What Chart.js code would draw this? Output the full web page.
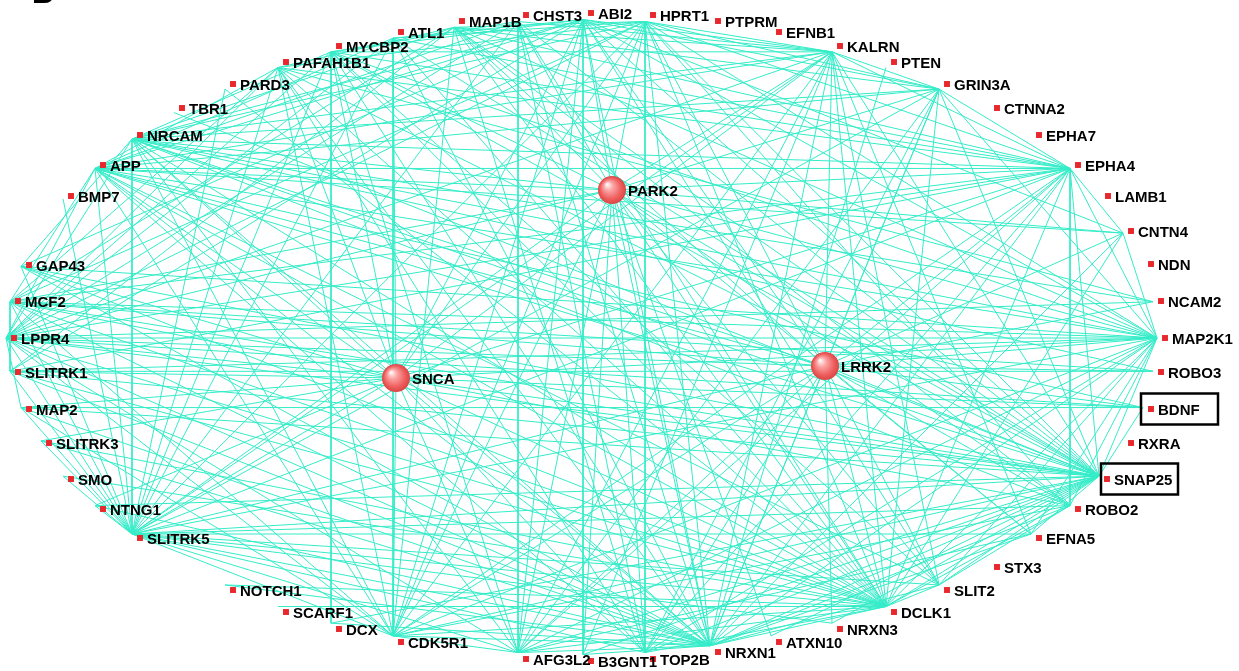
<!DOCTYPE html>
<html>
<head>
<meta charset="utf-8">
<script src="https://cdn.jsdelivr.net/npm/chart.js@4.4.1/dist/chart.umd.min.js"></script>
<style>
  html, body { margin: 0; padding: 0; background: #ffffff; }
  #wrap { width: 1239px; height: 671px; position: relative; }
</style>
</head>
<body>
<div id="wrap"><canvas id="net" width="1239" height="671"></canvas></div>
<script>
// Gene nodes on the outer ring (layout coordinates)
const geneNames = ['ABI2','HPRT1','PTPRM','EFNB1','KALRN','PTEN','GRIN3A','CTNNA2','EPHA7','EPHA4','LAMB1','CNTN4','NDN','NCAM2','MAP2K1','ROBO3','BDNF','RXRA','SNAP25','ROBO2','EFNA5','STX3','SLIT2','DCLK1','NRXN3','ATXN10','NRXN1','TOP2B','B3GNT1','AFG3L2','CDK5R1','DCX','SCARF1','NOTCH1','SLITRK5','NTNG1','SMO','SLITRK3','MAP2','SLITRK1','LPPR4','MCF2','GAP43','BMP7','APP','NRCAM','TBR1','PARD3','PAFAH1B1','MYCBP2','ATL1','MAP1B','CHST3'];
const geneX = [591,653,718,779,840,894,947,997,1039,1078,1108,1131,1151,1161,1165,1161,1151,1131,1107,1078,1039,997,947,894,840,779,718,653,591,526,401,339,286,233,140,103,71,49,29,18,14,18,29,71,103,140,182,233,286,339,401,462,526];
const geneY = [13,15,21,32,46,62,84,108,135,165,196,231,264,301,338,372,409,443,479,509,538,567,590,612,629,642,652,659,661,659,642,629,612,590,538,509,479,443,409,372,338,301,265,196,165,135,108,84,62,46,32,21,15];

// Disease genes drawn as spheres inside the ring
const hubNames = ['PARK2','SNCA','LRRK2'];
const hubX = [612,396,825];
const hubY = [190,378,366];

// Interactions of each disease gene
const park2Links = ['ABI2','HPRT1','CHST3','MAP1B','KALRN','GRIN3A','EPHA4','APP','NRCAM','MCF2','LPPR4','SLITRK5','CDK5R1','AFG3L2','B3GNT1','TOP2B','NRXN1','DCLK1','SLIT2','SNAP25','ROBO2','MAP2K1','CNTN4','ATXN10','MYCBP2','EFNA5'];
const sncaLinks = ['ATL1','MYCBP2','PAFAH1B1','NRCAM','APP','GAP43','MCF2','LPPR4','SLITRK1','MAP2','SLITRK3','NTNG1','SLITRK5','CDK5R1','AFG3L2','TOP2B','NRXN1','DCLK1','SNAP25','ROBO2','MAP2K1','EPHA4','KALRN','HPRT1','ABI2','BDNF'];
const lrrk2Links = ['ABI2','HPRT1','KALRN','GRIN3A','EPHA4','CNTN4','NCAM2','MAP2K1','ROBO3','BDNF','SNAP25','ROBO2','EFNA5','SLIT2','DCLK1','NRXN3','NRXN1','TOP2B','AFG3L2','CDK5R1','SLITRK5','LPPR4','MCF2','APP','NRCAM','MAP1B'];

// Interactions between ring genes
const geneLinks = [
  ['EPHA4', ['KALRN','GRIN3A','HPRT1','MYCBP2','PAFAH1B1','NRCAM','APP','MCF2','LPPR4','SLITRK1','SLITRK5','CDK5R1','AFG3L2','TOP2B','NRXN1','DCLK1','ROBO2','SNAP25','MAP2K1','CNTN4','ATL1','MAP1B']],
  ['KALRN', ['HPRT1','ABI2','CHST3','MAP1B','MYCBP2','NRCAM','APP','LPPR4','SLITRK5','CDK5R1','AFG3L2','NRXN1','DCLK1','SLIT2','SNAP25','GRIN3A','EFNA5','B3GNT1']],
  ['GRIN3A', ['HPRT1','ABI2','MAP1B','APP','NRCAM','SLITRK5','NRXN1','DCLK1','SNAP25','TOP2B','AFG3L2','MAP2K1']],
  ['HPRT1', ['MAP1B','ATL1','PAFAH1B1','NRCAM','LPPR4','MCF2','SLITRK5','CDK5R1','TOP2B','NRXN1','DCLK1','SNAP25','ROBO2','MAP2K1']],
  ['ABI2', ['ATL1','MYCBP2','NRCAM','APP','GAP43','SLITRK1','CDK5R1','AFG3L2','B3GNT1','NRXN1','SLIT2','SNAP25','MAP2K1','CNTN4']],
  ['CHST3', ['MYCBP2','APP','LPPR4','SLITRK5','AFG3L2','NRXN1','DCLK1','SNAP25','TOP2B']],
  ['MAP1B', ['PAFAH1B1','NRCAM','MCF2','SLITRK1','CDK5R1','TOP2B','DCLK1','SNAP25','ROBO2','MAP2K1']],
  ['ATL1', ['APP','CDK5R1','SLITRK5','NRXN1','DCLK1','SNAP25','LPPR4']],
  ['MYCBP2', ['NRCAM','LPPR4','SLITRK5','AFG3L2','NRXN1','DCLK1','SLIT2','SNAP25','MAP2K1','DCX']],
  ['PAFAH1B1', ['APP','LPPR4','MCF2','SLITRK5','CDK5R1','NRXN1','DCLK1','SNAP25','TOP2B','NCAM2']],
  ['PARD3', ['SLITRK5','DCLK1']],
  ['TBR1', ['SNAP25']],
  ['NRCAM', ['GAP43','LPPR4','SLITRK5','CDK5R1','AFG3L2','NRXN1','DCLK1','SNAP25','ROBO2','MAP2K1','NCAM2','ROBO3']],
  ['APP', ['MCF2','LPPR4','SLITRK5','CDK5R1','TOP2B','NRXN1','DCLK1','SLIT2','SNAP25','MAP2K1','CNTN4','BDNF']],
  ['BMP7', ['SLITRK5']],
  ['GAP43', ['SLITRK5','NRXN1','DCLK1','SNAP25','MAP2K1']],
  ['MCF2', ['SLITRK1','SLITRK5','CDK5R1','NRXN1','DCLK1','SNAP25','MAP2K1','ROBO3']],
  ['LPPR4', ['MAP2','SLITRK5','CDK5R1','AFG3L2','NRXN1','DCLK1','SNAP25','MAP2K1','NCAM2','BDNF']],
  ['SLITRK1', ['SLITRK5','NRXN1','DCLK1','SNAP25','MAP2K1','ROBO3']],
  ['MAP2', ['SLITRK5','CDK5R1','NRXN1','SNAP25','BDNF']],
  ['SLITRK3', ['SLITRK5','NRXN1','DCLK1']],
  ['SMO', ['SLITRK5','DCLK1']],
  ['NTNG1', ['SLITRK5','NRXN1','SNAP25']],
  ['SLITRK5', ['CDK5R1','AFG3L2','TOP2B','NRXN1','DCLK1','SLIT2','EFNA5','ROBO2','SNAP25','MAP2K1','NRXN3']],
  ['NOTCH1', ['NRXN1','DCLK1']],
  ['SCARF1', ['DCLK1']],
  ['DCX', ['NRXN1','SNAP25']],
  ['CDK5R1', ['AFG3L2','NRXN1','DCLK1','SNAP25','ROBO2','MAP2K1']],
  ['AFG3L2', ['NRXN1','DCLK1','SNAP25','EFNA5','MAP2K1']],
  ['B3GNT1', ['NRXN1','SNAP25']],
  ['TOP2B', ['DCLK1','SNAP25','MAP2K1']],
  ['NRXN1', ['DCLK1','SLIT2','EFNA5','ROBO2','SNAP25','MAP2K1','CNTN4']],
  ['ATXN10', ['SNAP25']],
  ['NRXN3', ['SNAP25']],
  ['DCLK1', ['SLIT2','ROBO2','SNAP25','MAP2K1','CNTN4']],
  ['SLIT2', ['ROBO2','SNAP25','MAP2K1']],
  ['EFNA5', ['SNAP25','MAP2K1']],
  ['ROBO2', ['MAP2K1']],
  ['SNAP25', ['BDNF','MAP2K1']],
  ['MAP2K1', ['CNTN4']],
  ['PTEN', ['NRXN1']]
];

// Genes highlighted with a frame
const boxedGenes = ['BDNF', 'SNAP25'];

// ---- drawing helpers ----
const ringCenter = { x: 590, y: 338 };
const EDGE_COLOR = 'rgb(52,236,200)';
const NODE_RED = '#e8282c';

function genePos(name) {
  const i = geneNames.indexOf(name);
  return { x: geneX[i], y: geneY[i] };
}
// Edges meet each ring gene just beside its marker
function edgeEnd(name) {
  const p = genePos(name);
  return { x: p.x - 8, y: p.y + (ringCenter.y - p.y) * 0.02 };
}
function hubPos(name) {
  const i = hubNames.indexOf(name);
  return { x: hubX[i], y: hubY[i] };
}

function edgeDataset(a, b) {
  return {
    data: [a, b],
    showLine: true,
    borderColor: EDGE_COLOR,
    borderWidth: 1,
    pointRadius: 0,
    fill: false,
    order: 5
  };
}

const datasets = [];
[[park2Links, 'PARK2'], [sncaLinks, 'SNCA'], [lrrk2Links, 'LRRK2']].forEach(([list, hub]) => {
  list.forEach(g => datasets.push(edgeDataset(hubPos(hub), edgeEnd(g))));
});
geneLinks.forEach(([src, targets]) => {
  targets.forEach(t => datasets.push(edgeDataset(edgeEnd(src), edgeEnd(t))));
});

// Sphere marker for the disease genes
function makeSphere(r) {
  const c = document.createElement('canvas');
  c.width = c.height = r * 2 + 2;
  const g = c.getContext('2d');
  const cx = r + 1, cy = r + 1;
  const grad = g.createRadialGradient(cx - r * 0.35, cy - r * 0.4, r * 0.05, cx, cy, r);
  grad.addColorStop(0, '#fff4f4');
  grad.addColorStop(0.3, '#fba4a4');
  grad.addColorStop(0.75, '#ee5c5c');
  grad.addColorStop(1, '#d94646');
  g.fillStyle = grad;
  g.beginPath();
  g.arc(cx, cy, r, 0, Math.PI * 2);
  g.fill();
  return c;
}
const sphere = makeSphere(14);

datasets.push({
  data: geneNames.map((n, i) => ({ x: geneX[i], y: geneY[i] })),
  pointStyle: 'rect',
  pointRadius: 4.2,
  backgroundColor: NODE_RED,
  borderColor: NODE_RED,
  borderWidth: 0,
  showLine: false,
  order: 1
});
datasets.push({
  data: hubNames.map((n, i) => ({ x: hubX[i], y: hubY[i] })),
  pointStyle: sphere,
  pointRadius: 14,
  showLine: false,
  order: 0
});

const labelPlugin = {
  id: 'geneLabels',
  afterDatasetsDraw(chart) {
    const { ctx, scales: { x, y } } = chart;
    ctx.save();
    ctx.fillStyle = '#000';
    ctx.font = 'bold 15px "Liberation Sans", Arial, sans-serif';
    ctx.textBaseline = 'alphabetic';
    geneNames.forEach((n, i) => {
      ctx.fillText(n, x.getPixelForValue(geneX[i]) + 7, y.getPixelForValue(geneY[i]) + 5.5);
    });
    hubNames.forEach((n, i) => {
      ctx.fillText(n, x.getPixelForValue(hubX[i]) + 16, y.getPixelForValue(hubY[i]) + 5.5);
    });
    // frames around highlighted genes
    ctx.strokeStyle = '#000';
    ctx.lineWidth = 2.5;
    const frameOffset = { BDNF: 10, SNAP25: 6 };
    boxedGenes.forEach(n => {
      const p = genePos(n);
      const px = x.getPixelForValue(p.x), py = y.getPixelForValue(p.y);
      ctx.strokeRect(px - frameOffset[n], py - 15.5, 77, 31);
    });
    // panel letter
    ctx.font = 'bold 30px "Liberation Sans", Arial, sans-serif';
    ctx.fillText('B', 32, 3);
    ctx.restore();
  }
};

new Chart(document.getElementById('net'), {
  type: 'scatter',
  data: { datasets },
  options: {
    responsive: false,
    animation: false,
    events: [],
    layout: { padding: 0, autoPadding: false },
    plugins: { legend: { display: false }, tooltip: { enabled: false } },
    scales: {
      x: { type: 'linear', min: 0, max: 1239, display: false },
      y: { type: 'linear', min: 0, max: 671, reverse: true, display: false }
    }
  },
  plugins: [labelPlugin]
});
</script>
</body>
</html>
